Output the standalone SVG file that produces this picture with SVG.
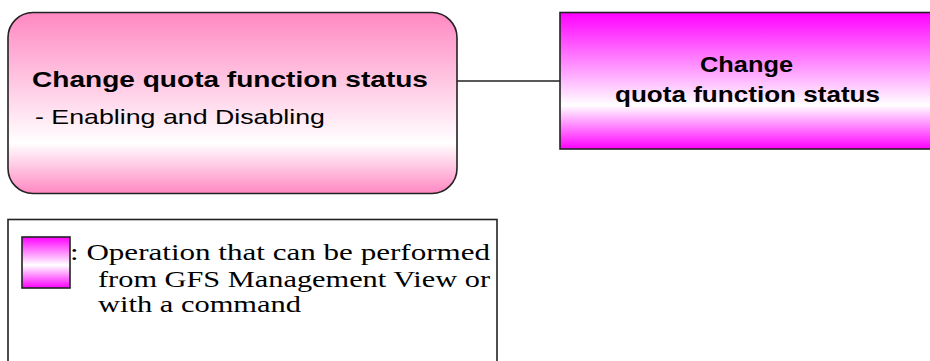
<svg xmlns="http://www.w3.org/2000/svg" width="930" height="361" viewBox="0 0 930 361">
<defs>
<linearGradient id="gPink" x1="0" y1="0" x2="0" y2="1">
<stop offset="0" stop-color="#ff88c2"/>
<stop offset="0.72" stop-color="#ffffff"/>
<stop offset="1" stop-color="#ff88c2"/>
</linearGradient>
<linearGradient id="gMag" x1="0" y1="0" x2="0" y2="1">
<stop offset="0" stop-color="#ff00ff"/>
<stop offset="0.68" stop-color="#ffffff"/>
<stop offset="1" stop-color="#ff00ff"/>
</linearGradient>
<linearGradient id="gSw" x1="0" y1="0" x2="0" y2="1">
<stop offset="0" stop-color="#ff00ff"/>
<stop offset="0.55" stop-color="#ffffff"/>
<stop offset="1" stop-color="#ff00ff"/>
</linearGradient>
</defs>
<style>
.box{stroke:#222;stroke-width:1.6}
.bold{font-family:"Liberation Sans",Arial,sans-serif;font-weight:bold;font-size:22px;fill:#000}
.reg{font-family:"Liberation Sans",Arial,sans-serif;font-size:21px;fill:#000}
.ser{font-family:"Liberation Serif","Times New Roman",serif;font-size:23px;fill:#000}
.conn{stroke:#222;stroke-width:1.6;fill:none}
</style>
<g id="connectors">
<line class="conn" x1="457" y1="81" x2="560" y2="81"/>
</g>
<g id="node-main">
<rect class="box" x="8" y="12.5" width="449" height="181" rx="25" ry="25" fill="url(#gPink)"/>
<text class="bold" x="32" y="87" textLength="396" lengthAdjust="spacingAndGlyphs">Change quota function status</text>
<text class="reg" x="35" y="124" textLength="290" lengthAdjust="spacingAndGlyphs">- Enabling and Disabling</text>
</g>
<g id="node-op">
<rect class="box" x="560" y="12.5" width="380" height="136.5" fill="url(#gMag)"/>
<text class="bold" x="746.5" y="72" text-anchor="middle" textLength="93" lengthAdjust="spacingAndGlyphs">Change</text>
<text class="bold" x="747.5" y="102" text-anchor="middle" textLength="265" lengthAdjust="spacingAndGlyphs">quota function status</text>
</g>
<g id="legend">
<rect x="8" y="219.5" width="489" height="160" fill="#fff" stroke="#222" stroke-width="1.6"/>
<rect x="22" y="237" width="48" height="51" fill="url(#gSw)" stroke="#222" stroke-width="1.6"/>
<text class="ser" x="70" y="260" textLength="420" lengthAdjust="spacingAndGlyphs">: Operation that can be performed</text>
<text class="ser" x="98" y="286.5" textLength="392" lengthAdjust="spacingAndGlyphs">from GFS Management View or</text>
<text class="ser" x="98" y="312" textLength="203" lengthAdjust="spacingAndGlyphs">with a command</text>
</g>
</svg>
